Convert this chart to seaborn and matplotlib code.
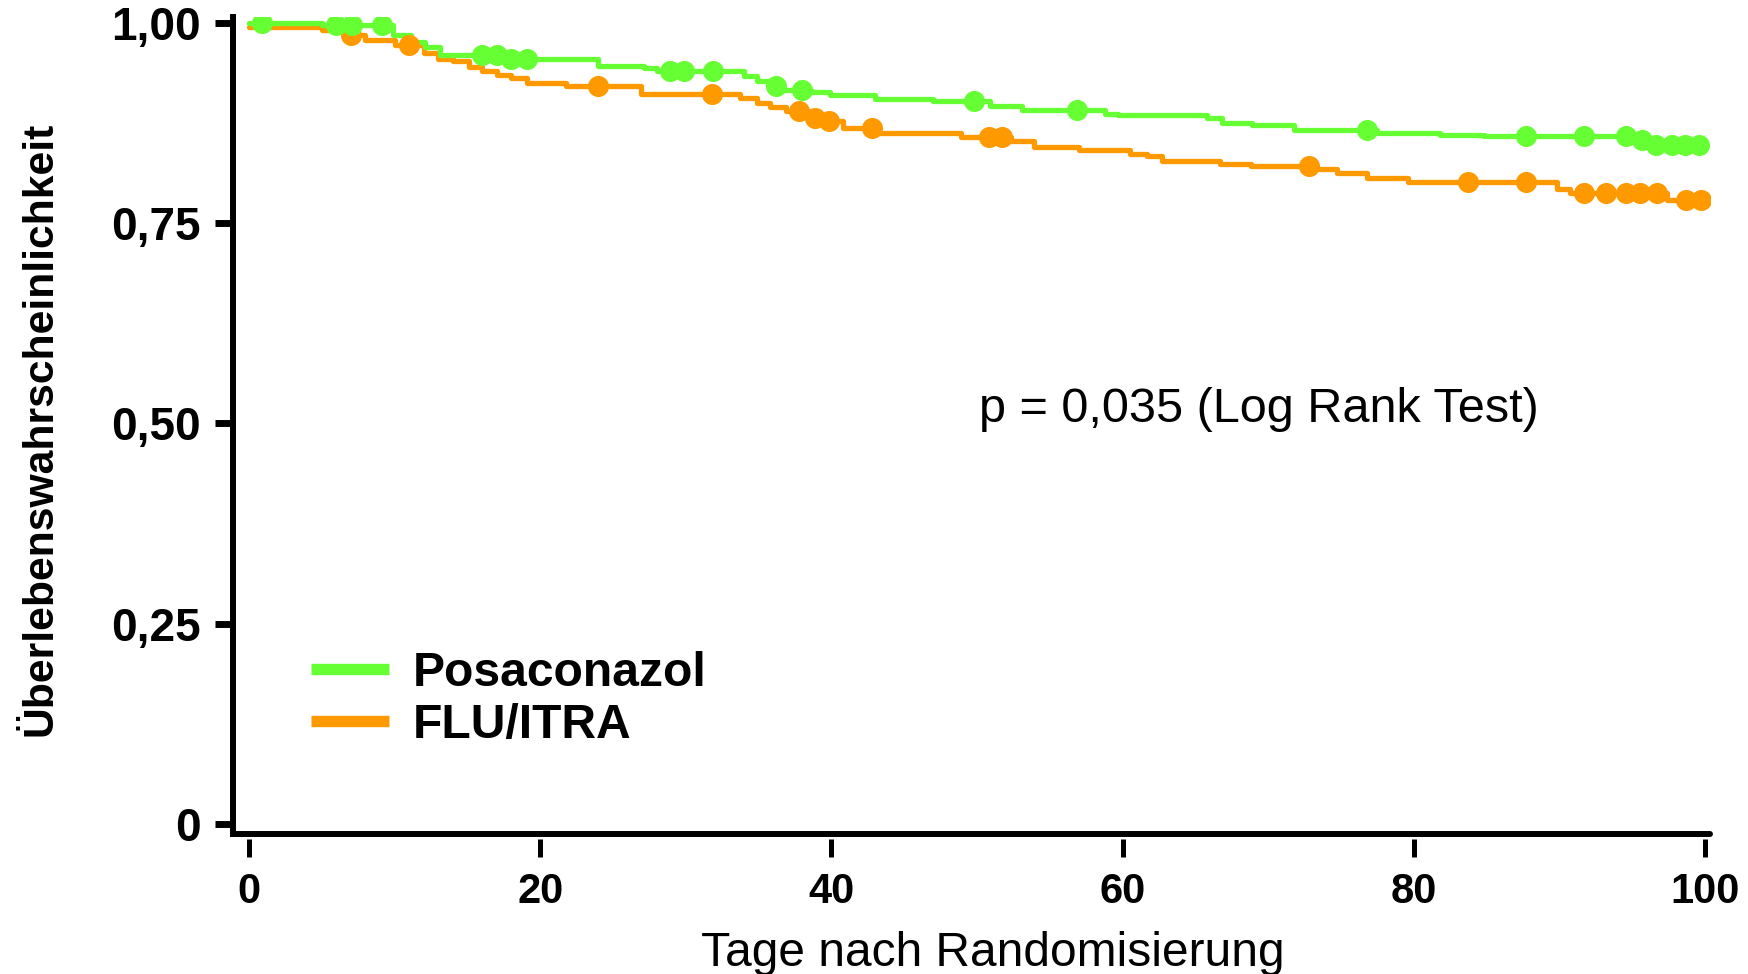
import numpy as np
import pandas as pd
import matplotlib
matplotlib.use("Agg")
import matplotlib.pyplot as plt
import seaborn as sns
from matplotlib.lines import Line2D

# ---- data ----
series_names = ["Posaconazol", "FLU/ITRA"]

posa_times = [0, 5.0, 9.9, 11.1, 12.1, 13.1, 17.5, 24.0, 27.1, 28.0, 34.0, 34.9, 35.8,
              36.7, 38.6, 39.9, 43.0, 47.0, 50.9, 53.1, 58.8, 59.7, 65.8, 66.8, 68.9,
              71.8, 77.5, 81.8, 84.8, 95.2, 96.2]
posa_surv = [1.000, 0.997, 0.984, 0.976, 0.970, 0.960, 0.954, 0.946, 0.943, 0.940, 0.933,
             0.927, 0.921, 0.916, 0.913, 0.909, 0.905, 0.902, 0.896, 0.891, 0.886, 0.884,
             0.881, 0.875, 0.872, 0.866, 0.862, 0.860, 0.858, 0.853, 0.847]
posa_censor = [0.9, 6.0, 7.1, 9.1, 16.0, 17.0, 18.0, 19.1, 28.9, 29.9, 31.9, 36.2, 38.0,
               49.8, 56.9, 76.8, 87.7, 91.7, 94.6, 95.7, 96.6, 97.7, 98.6, 99.6]

flu_times = [0, 5.0, 6.5, 8.0, 10.0, 12.0, 13.0, 14.0, 15.1, 16.0, 17.0, 18.0, 19.1, 21.8,
             26.9, 33.7, 34.9, 35.8, 36.9, 38.4, 39.4, 40.8, 43.3, 48.9, 52.3, 53.9, 57.0,
             60.5, 61.7, 62.7, 66.7, 68.8, 72.9, 74.7, 76.8, 79.6, 89.8, 90.7, 97.4]
flu_surv = [0.995, 0.991, 0.984, 0.978, 0.972, 0.962, 0.954, 0.952, 0.944, 0.940, 0.935,
            0.931, 0.925, 0.921, 0.911, 0.906, 0.900, 0.895, 0.889, 0.881, 0.877, 0.869,
            0.862, 0.857, 0.852, 0.845, 0.841, 0.836, 0.833, 0.827, 0.824, 0.821, 0.817,
            0.812, 0.806, 0.801, 0.792, 0.787, 0.779]
flu_censor = [7.0, 11.0, 24.0, 31.8, 37.8, 38.9, 39.8, 42.8, 50.8, 51.7, 72.8, 83.7, 87.7,
              91.7, 93.2, 94.6, 95.5, 96.7, 98.7, 99.7]

end_day = 99.8

x_ticks = [0, 20, 40, 60, 80, 100]
y_ticks = [0, 0.25, 0.50, 0.75, 1.00]
y_tick_labels = ["0", "0,25", "0,50", "0,75", "1,00"]

colors = {"Posaconazol": "#66FF33", "FLU/ITRA": "#FF9900"}

# ---- style ----
sns.set_style("ticks")
plt.rcParams["font.family"] = ["Liberation Sans", "DejaVu Sans"]
plt.rcParams["text.color"] = "black"

W, H = 1748, 974
fig = plt.figure(figsize=(W / 100, H / 100), dpi=100)
ax = fig.add_axes([233 / W, 140 / H, 1477 / W, 817 / H])


def km_frame(times, surv, end):
    return pd.DataFrame({"t": list(times) + [end], "s": list(surv) + [surv[-1]]})


def censor_frame(times, surv, censor):
    idx = np.searchsorted(np.asarray(times), np.asarray(censor), side="right") - 1
    return pd.DataFrame({"t": censor, "s": np.asarray(surv)[idx]})


for name, times, surv, cens in [("FLU/ITRA", flu_times, flu_surv, flu_censor),
                                ("Posaconazol", posa_times, posa_surv, posa_censor)]:
    sns.lineplot(data=km_frame(times, surv, end_day), x="t", y="s", ax=ax,
                 drawstyle="steps-post", color=colors[name], linewidth=3.8,
                 estimator=None, sort=False)
    sns.scatterplot(data=censor_frame(times, surv, cens), x="t", y="s", ax=ax,
                    color=colors[name], s=230, linewidth=0, zorder=3)

ax.set_xlim(-1.1, 100.34)
ax.set_ylim(-0.0125, 1.0069)
ax.set_xticks(x_ticks)
ax.set_xticklabels([str(v) for v in x_ticks])
ax.set_yticks(y_ticks)
ax.set_yticklabels(y_tick_labels)
ax.set_xlabel("")
ax.set_ylabel("")

for sp in ["top", "right"]:
    ax.spines[sp].set_visible(False)
ax.spines["left"].set_linewidth(4.3)
ax.spines["left"].set_color("black")
ax.spines["bottom"].set_position(("outward", 3.6))
ax.spines["bottom"].set_visible(False)
ax.axhline(ax.get_ylim()[0], color="black", linewidth=4.3, clip_on=False, zorder=5)

ax.tick_params(axis="y", length=13, width=5, pad=10, labelsize=33, colors="black")
ax.tick_params(axis="x", length=13, width=3.6, pad=11, labelsize=30, colors="black")
for lab in ax.get_xticklabels() + ax.get_yticklabels():
    lab.set_fontweight("bold")

fig.text(41 / W, 1 - 429 / H, "Überlebenswahrscheinlichkeit", rotation=90,
         ha="center", va="center", fontsize=30.7, fontweight="bold")
fig.text(993 / W, 1 - 953 / H, "Tage nach Randomisierung", ha="center", va="center",
         fontsize=34.5)
fig.text(979 / W, 1 - 410 / H, "p = 0,035 (Log Rank Test)", ha="left", va="center",
         fontsize=35)

handles = [Line2D([], [], color=colors[n], linewidth=8.2, solid_capstyle="butt")
           for n in series_names]
fig.legend(handles, series_names, loc="upper left", bbox_to_anchor=(311 / W, 1 - 651 / H),
           frameon=False, borderpad=0, borderaxespad=0, handlelength=1.62,
           handletextpad=0.5, labelspacing=0.14,
           prop={"weight": "bold", "size": 34.6, "family": "Liberation Sans"})

fig.savefig("out.png", dpi=100)
